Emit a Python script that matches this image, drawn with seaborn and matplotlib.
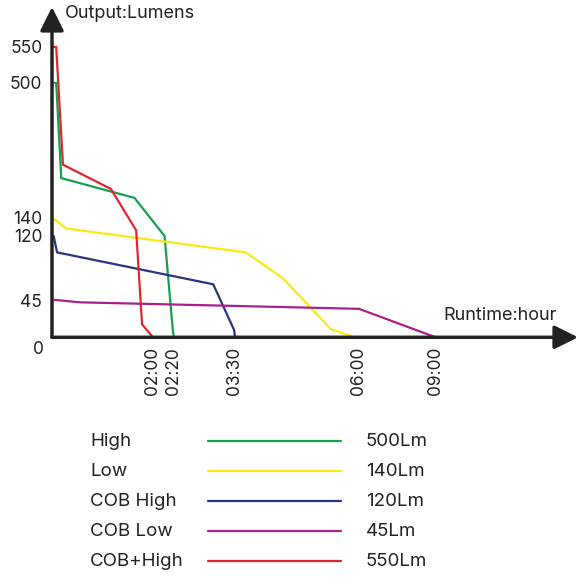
import numpy as np
import pandas as pd
import matplotlib
matplotlib.use("Agg")
import matplotlib.pyplot as plt
from matplotlib.lines import Line2D
import seaborn as sns

# ---------------- data ----------------
modes = ["High", "Low", "COB High", "COB Low", "COB+High"]
mode_values = ["500Lm", "140Lm", "120Lm", "45Lm", "550Lm"]
colors = ["#13a04f", "#fbe814", "#2a347e", "#aa1f8e", "#e0262d"]

# runtime in minutes, output in lumens
high_t = [0, 5, 11, 98, 131, 139, 140]
high_lm = [500, 500, 245, 192, 120, 7, 0]
low_t = [0, 17, 223, 268, 326, 355]
low_lm = [140, 128, 101, 71, 10, 0]
cobhigh_t = [2, 6, 185, 209, 210]
cobhigh_lm = [120, 101, 64, 9, 0]
coblow_t = [3, 33, 360, 540]
coblow_lm = [46, 43, 35, 0]
cobplus_t = [0, 5, 13, 70, 100, 107, 120]
cobplus_lm = [550, 550, 281, 216, 126, 16, 0]

x_ticks = [120, 140, 210, 360, 540]
x_ticklabels = ["02:00", "02:20", "03:30", "06:00", "09:00"]
y_ticks = [45, 120, 140, 500, 550]
y_ticklabels = ["45", "120", "140", "500", "550"]

series_t = [high_t, low_t, cobhigh_t, coblow_t, cobplus_t]
series_lm = [high_lm, low_lm, cobhigh_lm, coblow_lm, cobplus_lm]

rows = []
for m, ts, ls in zip(modes, series_t, series_lm):
    for t, l in zip(ts, ls):
        rows.append({"mode": m, "t": t, "lm": l})
df = pd.DataFrame(rows)

# ---------------- piecewise axis scales ----------------
xb_val = np.array([0, 120, 140, 210, 360, 540, 1000.0])
xb_pos = np.array([0, 101, 122, 183, 307, 383.7, 579.7])
yb_val = np.array([0, 45, 120, 140, 500, 550, 700.0])
yb_pos = np.array([0, 36.6, 101.3, 120, 254.3, 290.3, 398.3])

def xf(v):
    return np.interp(v, xb_val, xb_pos)
def xi(p):
    return np.interp(p, xb_pos, xb_val)
def yf(v):
    return np.interp(v, yb_val, yb_pos)
def yi(p):
    return np.interp(p, yb_pos, yb_val)

sns.set_style("white")
plt.rcParams["font.family"] = ["Inter", "DejaVu Sans"]

W, H = 587, 584
fig = plt.figure(figsize=(W / 100, H / 100), dpi=100)
ax = fig.add_axes([52 / W, (H - 337.3) / H, 526 / W, 330.3 / H])
ax.set_xscale("function", functions=(xf, xi))
ax.set_yscale("function", functions=(yf, yi))

sns.lineplot(data=df, x="t", y="lm", hue="mode", palette=dict(zip(modes, colors)),
             hue_order=modes, estimator=None, sort=False, legend=False, lw=1.6, ax=ax)

ax.set_xlim(0, 874)
ax.set_ylim(0, 605.5)
for s in ax.spines.values():
    s.set_visible(False)

axis_col = "#222222"
arrow = dict(arrowstyle="-|>,head_length=1,head_width=0.5", lw=2.5, color=axis_col,
             mutation_scale=14.4, shrinkA=0, shrinkB=0)
ax.annotate("", xy=(0, 1), xytext=(0, 0), xycoords="axes fraction", arrowprops=arrow)
ax.annotate("", xy=(1, 0), xytext=(0, 0), xycoords="axes fraction", arrowprops=arrow)

ax.set_xticks(x_ticks)
ax.set_xticklabels(x_ticklabels, rotation=90)
ax.set_yticks(y_ticks)
ax.set_yticklabels(y_ticklabels)
ax.minorticks_off()
ax.tick_params(axis="both", length=4, width=1.2, color=axis_col, labelsize=12.5,
               labelcolor="#222222", pad=3)
ax.set_xlabel("")
ax.set_ylabel("")

ax.annotate("0", xy=(0, 0), xycoords="axes fraction", xytext=(-10, -8.6),
            textcoords="offset points", ha="center", va="center", fontsize=12.5,
            color="#222222")
fig.text(65 / W, 1 - 13 / H, "Output:Lumens", ha="left", va="center", fontsize=13,
         color="#222222")
fig.text(443 / W, 1 - 315 / H, "Runtime:hour", ha="left", va="center", fontsize=13,
         color="#222222")

# ---------------- legend ----------------
row_y = [441, 471, 501, 531, 561]
for name, val, c, yy in zip(modes, mode_values, colors, row_y):
    fig.text(90 / W, 1 - yy / H, name, ha="left", va="center", fontsize=13.5,
             color="#222222")
    fig.text(366 / W, 1 - yy / H, val, ha="left", va="center", fontsize=13.5,
             color="#222222")
    fig.add_artist(Line2D([208 / W, 341 / W], [1 - (yy - 0.5) / H, 1 - (yy - 0.5) / H],
                          transform=fig.transFigure, color=c, lw=1.6))

fig.savefig("out.png", dpi=100)
